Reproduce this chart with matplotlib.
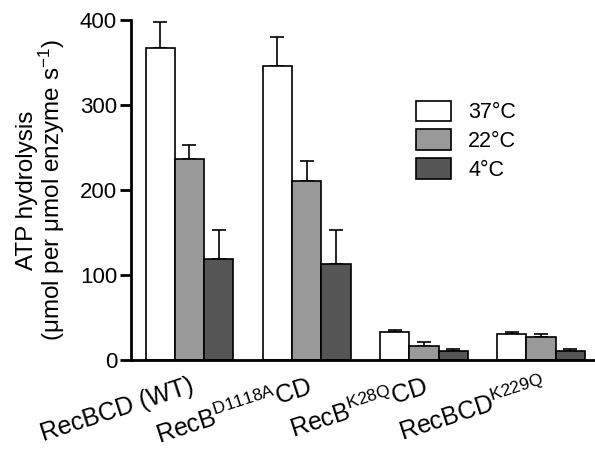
import matplotlib
matplotlib.use('Agg')
import matplotlib.pyplot as plt
import numpy as np

plt.rcParams['font.family'] = ['Liberation Sans', 'DejaVu Sans']
plt.rcParams['mathtext.fontset'] = 'custom'
plt.rcParams['mathtext.rm'] = 'Liberation Sans'
plt.rcParams['mathtext.it'] = 'Liberation Sans'

# ---------------- Data ----------------
groups = ["RecBCD (WT)", "RecB$^{D1118A}$CD", "RecB$^{K28Q}$CD", "RecBCD$^{K229Q}$"]
temps = ["37°C", "22°C", "4°C"]
vals_37 = [367, 346, 33, 31]
vals_22 = [236, 210, 16, 27]
vals_4 = [119, 113, 10, 10]
err_37 = [31, 34, 2, 1.5]
err_22 = [17, 24, 5, 4]
err_4 = [34, 40, 3, 3]

colors = ["white", "#999999", "#555555"]

# ---------------- Figure ----------------
fig = plt.figure(figsize=(5.95, 4.55), dpi=100)
ax = fig.add_axes([0.220, 0.209, 0.778, 0.747])

x = np.arange(len(groups))
w = 0.25
series = [vals_37, vals_22, vals_4]
errs = [err_37, err_22, err_4]
for i, (v, e, c, lab) in enumerate(zip(series, errs, colors, temps)):
    ax.bar(x + (i - 1) * w, v, w, color=c, edgecolor="black", linewidth=1.2,
           label=lab, zorder=2)
    ax.errorbar(x + (i - 1) * w, v, yerr=[np.zeros(len(e)), e], fmt="none",
                ecolor="black", elinewidth=1.2, capsize=5, capthick=1.2, zorder=1)

ax.set_xlim(-0.5, 3.45)
ax.set_ylim(0, 400)
ax.set_yticks([0, 100, 200, 300, 400])
ax.set_xticks(x)
ax.set_xticklabels(groups, rotation=18, ha="right", va="top", rotation_mode="anchor")
ax.tick_params(axis="x", length=0, labelsize=18, pad=10)
ax.tick_params(axis="y", length=8, width=2, labelsize=16, pad=2)

for s in ["top", "right"]:
    ax.spines[s].set_visible(False)
ax.spines["left"].set_linewidth(2)
ax.spines["bottom"].set_linewidth(2)

ax.set_ylabel("ATP hydrolysis\n(μmol per μmol enzyme s$^{-1}$)", fontsize=17.5,
              linespacing=0.95, labelpad=9)

ax.legend(loc="upper left", bbox_to_anchor=(0.575, 0.82), frameon=False,
          fontsize=15.5, handlelength=1.6, handleheight=1.1, handletextpad=0.8,
          labelspacing=0.28)

fig.savefig("out.png", dpi=100)
